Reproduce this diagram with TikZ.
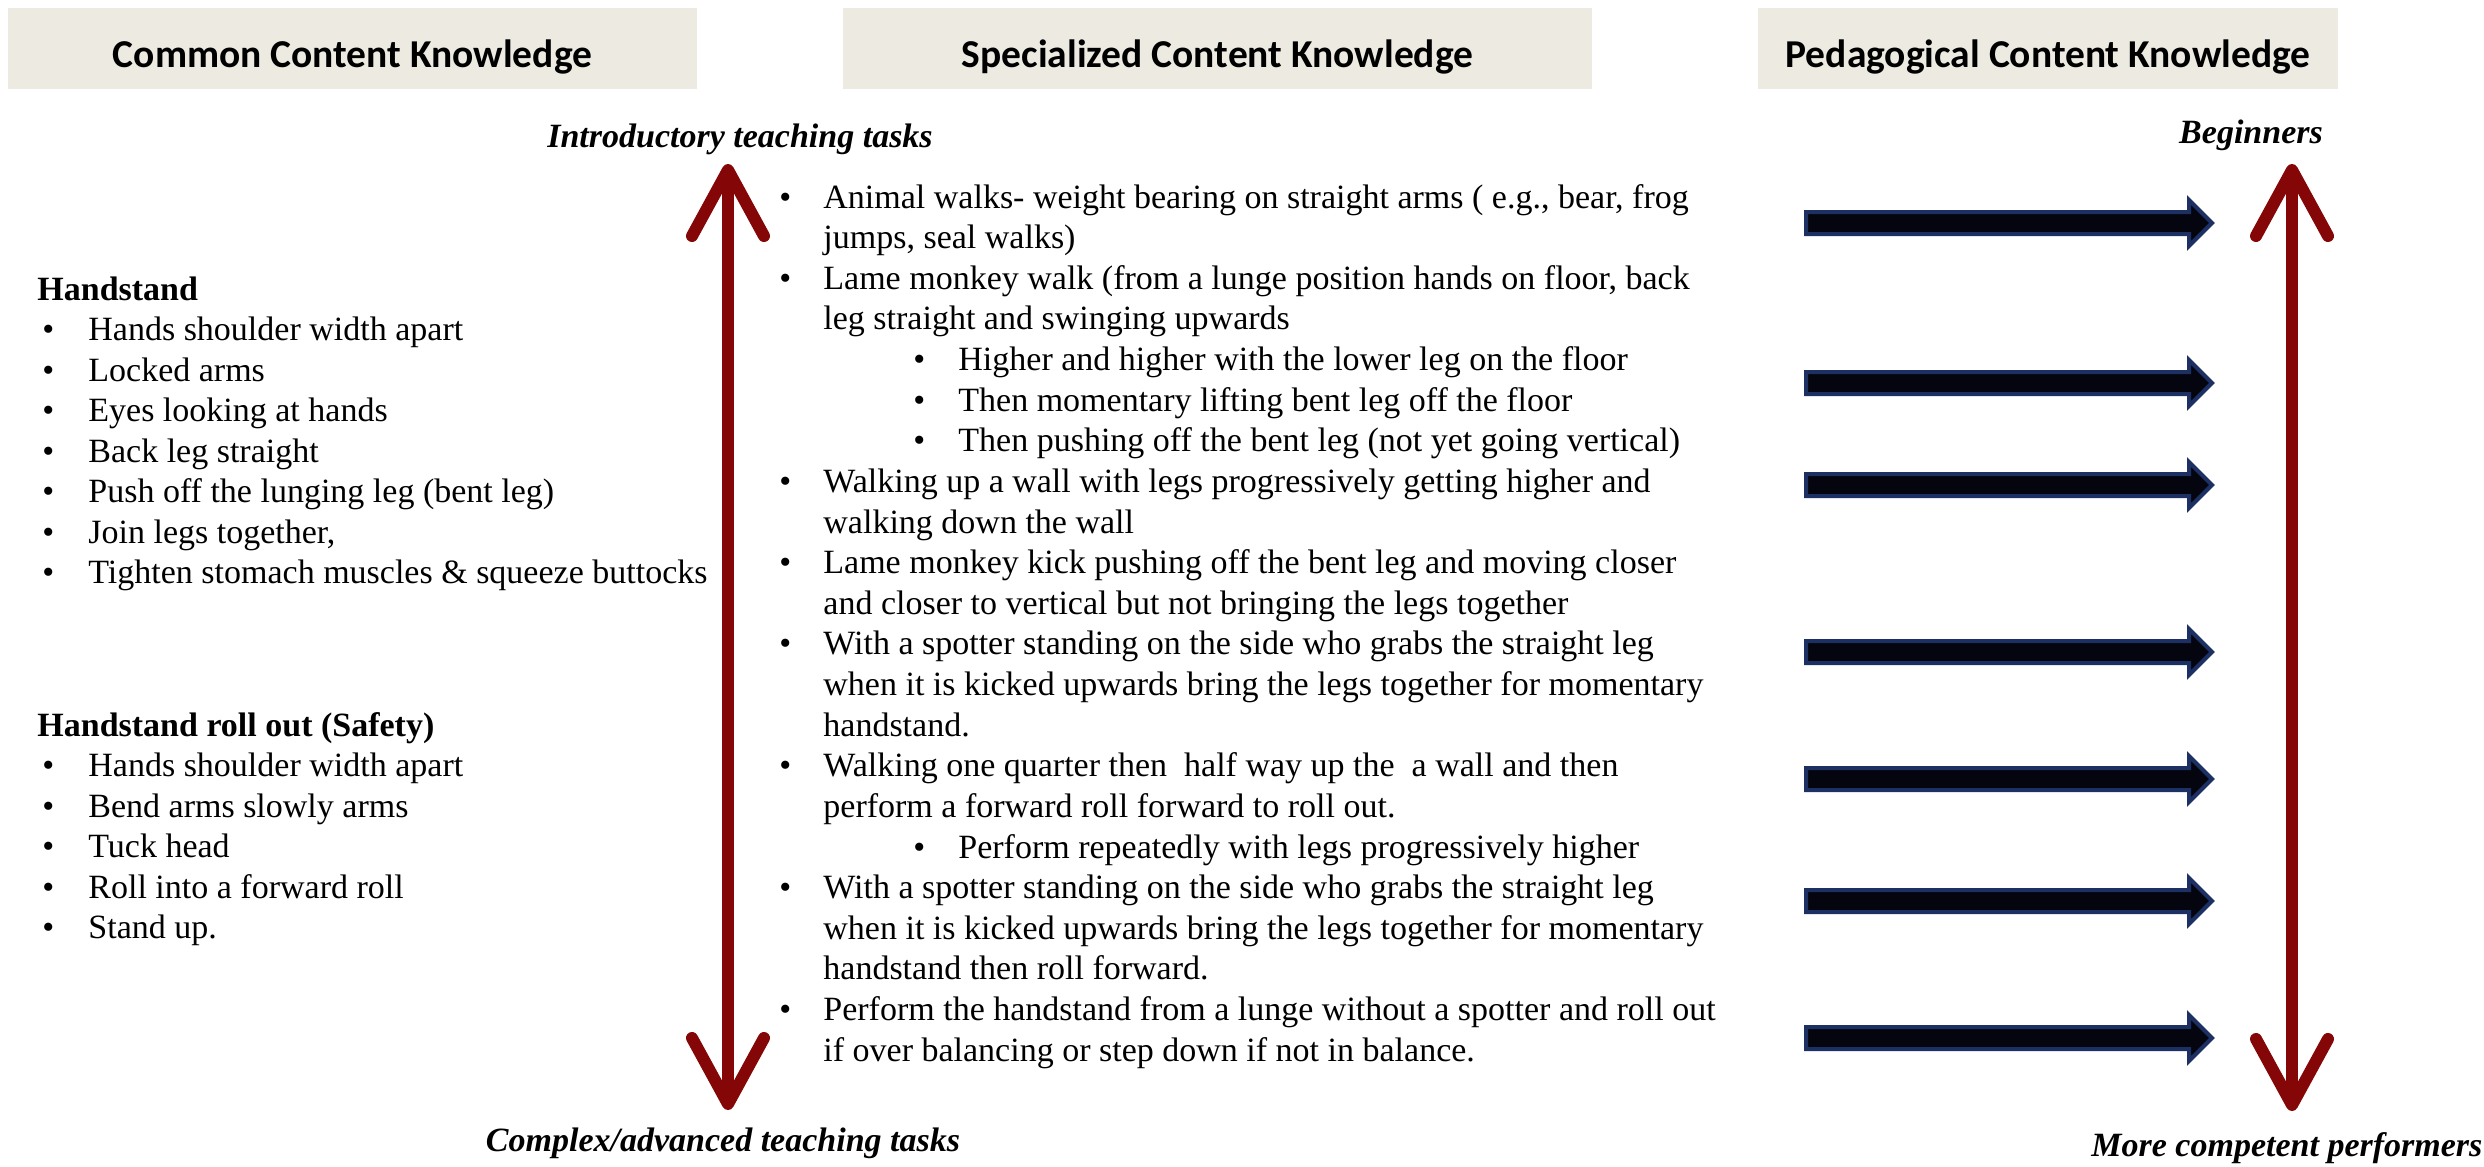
\documentclass[tikz,border=0pt]{standalone}
\usepackage{fontspec}
\setmainfont{Liberation Serif}
\newfontfamily\hdrfont{Carlito}
\usetikzlibrary{arrows.meta}
\definecolor{hdrfill}{RGB}{236,234,225}
\definecolor{darkred}{RGB}{132,6,6}
\definecolor{navyline}{RGB}{28,48,100}
\definecolor{arrowfill}{RGB}{5,5,15}
\begin{document}
\begin{tikzpicture}[x=0.5pt,y=-0.5pt,
  body/.style={inner sep=0pt, anchor=base west, font=\fontsize{17}{20}\selectfont},
  bodyb/.style={inner sep=0pt, anchor=base west, font=\bfseries\fontsize{17}{20}\selectfont},
  bul/.style={inner sep=0pt, anchor=base west, font=\fontsize{17}{20}\selectfont},
  lab/.style={inner sep=0pt, anchor=base, font=\bfseries\itshape\fontsize{17}{20}\selectfont},
  hdrbox/.style={fill=hdrfill, minimum height=40.5pt, inner sep=0pt},
  hdrtext/.style={inner sep=0pt, anchor=base, font=\hdrfont\bfseries\fontsize{19.75}{24}\selectfont},
  barb/.style={},
  redarrow/.style={draw=darkred, line width=6pt,
    {Straight Barb[length=33pt,width=36pt,line cap=round,line join=round]}-{Straight Barb[length=33pt,width=36pt,line cap=round,line join=round]}},
  bluearrow/.style={draw=navyline, line width=2pt, fill=arrowfill, line join=miter}
]
\useasboundingbox (0,0) rectangle (2484,1167);

% headers
\node[hdrbox, minimum width=344.5pt] (hb1) at (352.5,48.5) {};
\node[hdrbox, minimum width=374.5pt] (hb2) at (1217.5,48.5) {};
\node[hdrbox, minimum width=290pt] (hb3) at (2048,48.5) {};
\node[hdrtext] (ht1) at (352.5,67) {Common Content Knowledge};
\node[hdrtext] (ht2) at (1217.5,67) {Specialized Content Knowledge};
\node[hdrtext] (ht3) at (2048,67) {Pedagogical Content Knowledge};

% axis labels
\node[lab] (intro) at (740,147) {Introductory teaching tasks};
\node[lab] (complex) at (723,1151) {Complex/advanced teaching tasks};
\node[lab] (begin) at (2251,143) {Beginners};
\node[lab, anchor=base west] (compet) at (2091,1156) {More competent performers};

% red double arrows
\coordinate (lt) at (728,164);
\coordinate (lb) at (728,1110);
\coordinate (rt) at (2292,164);
\coordinate (rb) at (2292,1111);
\draw[redarrow] (lt) -- (lb);
\draw[redarrow] (rt) -- (rb);

% blue block arrows
\foreach \y in {223,383,485,652,779,901,1038}{
  \draw[bluearrow] (1806,\y-11) -- (2189,\y-11) -- (2189,\y-23) -- (2212,\y)
    -- (2189,\y+23) -- (2189,\y+11) -- (1806,\y+11) -- cycle;
}

% left column
\node[bodyb] (lh1) at (37,300) {Handstand};
\node[bul] (lb1) at (42,340.5) {\textbullet}; \node[body] (l1) at (88,340.5) {Hands shoulder width apart};
\node[bul] (lb2) at (42,381) {\textbullet}; \node[body] (l2) at (88,381) {Locked arms};
\node[bul] (lb3) at (42,421.5) {\textbullet}; \node[body] (l3) at (88,421.5) {Eyes looking at hands};
\node[bul] (lb4) at (42,462) {\textbullet}; \node[body] (l4) at (88,462) {Back leg straight};
\node[bul] (lb5) at (42,502.5) {\textbullet}; \node[body] (l5) at (88,502.5) {Push off the lunging leg (bent leg)};
\node[bul] (lb6) at (42,543) {\textbullet}; \node[body] (l6) at (88,543) {Join legs together,};
\node[bul] (lb7) at (42,583.5) {\textbullet}; \node[body] (l7) at (88,583.5) {Tighten stomach muscles \& squeeze buttocks};

\node[bodyb] (lh2) at (37,736) {Handstand roll out (Safety)};
\node[bul] (lb8) at (42,776.5) {\textbullet}; \node[body] (l8) at (88,776.5) {Hands shoulder width apart};
\node[bul] (lb9) at (42,817) {\textbullet}; \node[body] (l9) at (88,817) {Bend arms slowly arms};
\node[bul] (lb10) at (42,857.5) {\textbullet}; \node[body] (l10) at (88,857.5) {Tuck head};
\node[bul] (lb11) at (42,898) {\textbullet}; \node[body] (l11) at (88,898) {Roll into a forward roll};
\node[bul] (lb12) at (42,938.5) {\textbullet}; \node[body] (l12) at (88,938.5) {Stand up.};

% middle column (baselines 208 + 40.62 k)
\node[bul] (mb1) at (779,208) {\textbullet};
\node[body] (m1) at (823,208) {Animal walks- weight bearing on straight arms ( e.g., bear, frog};
\node[body] (m2) at (823,248.6) {jumps, seal walks)};
\node[bul] (mb2) at (779,289.2) {\textbullet};
\node[body] (m3) at (823,289.2) {Lame monkey walk (from a lunge position hands on floor, back};
\node[body] (m4) at (823,329.9) {leg straight and swinging upwards};
\node[bul] (sb1) at (913,370.5) {\textbullet};
\node[body] (s1) at (958,370.5) {Higher and higher with the lower leg on the floor};
\node[bul] (sb2) at (913,411.1) {\textbullet};
\node[body] (s2) at (958,411.1) {Then momentary lifting bent leg off the floor};
\node[bul] (sb3) at (913,451.7) {\textbullet};
\node[body] (s3) at (958,451.7) {Then pushing off the bent leg (not yet going vertical)};
\node[bul] (mb3) at (779,492.3) {\textbullet};
\node[body] (m5) at (823,492.3) {Walking up a wall with legs progressively getting higher and};
\node[body] (m6) at (823,533) {walking down the wall};
\node[bul] (mb4) at (779,573.6) {\textbullet};
\node[body] (m7) at (823,573.6) {Lame monkey kick pushing off the bent leg and moving closer};
\node[body] (m8) at (823,614.2) {and closer to vertical but not bringing the legs together};
\node[bul] (mb5) at (779,654.8) {\textbullet};
\node[body] (m9) at (823,654.8) {With a spotter standing on the side who grabs the straight leg};
\node[body] (m10) at (823,695.5) {when it is kicked upwards bring the legs together for momentary};
\node[body] (m11) at (823,736.1) {handstand.};
\node[bul] (mb6) at (779,776.7) {\textbullet};
\node[body] (m12) at (823,776.7) {Walking one quarter then\ \ half way up the\ \ a wall and then};
\node[body] (m13) at (823,817.3) {perform a forward roll forward to roll out.};
\node[bul] (sb4) at (913,858) {\textbullet};
\node[body] (s4) at (958,858) {Perform repeatedly with legs progressively higher};
\node[bul] (mb7) at (779,898.6) {\textbullet};
\node[body] (m14) at (823,898.6) {With a spotter standing on the side who grabs the straight leg};
\node[body] (m15) at (823,939.2) {when it is kicked upwards bring the legs together for momentary};
\node[body] (m16) at (823,979.8) {handstand then roll forward.};
\node[bul] (mb8) at (779,1020.4) {\textbullet};
\node[body] (m17) at (823,1020.4) {Perform the handstand from a lunge without a spotter and roll out};
\node[body] (m18) at (823,1061) {if over balancing or step down if not in balance.};
\end{tikzpicture}
\end{document}
